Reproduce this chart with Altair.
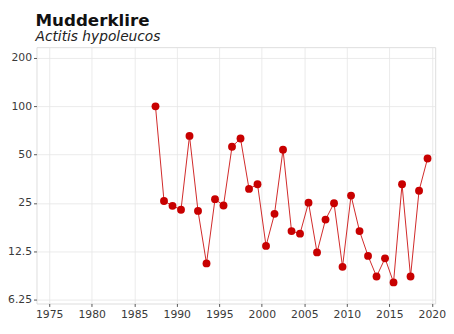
import altair as alt
import pandas as pd

years = list(range(1987, 2020))
counts = [100, 25.7, 24.0, 22.7, 65.4, 22.3, 10.5, 26.4, 24.1, 56.0,
          63.0, 30.6, 32.7, 13.5, 21.4, 53.7, 16.7, 16.1, 25.1, 12.3,
          19.7, 24.9, 10.0, 27.8, 16.7, 11.7, 8.7, 11.3, 8.0, 32.7,
          8.7, 29.8, 47.3]
x_ticks = [1975, 1980, 1985, 1990, 1995, 2000, 2005, 2010, 2015, 2020]
y_ticks = [6.25, 12.5, 25, 50, 100, 200]

df = pd.DataFrame({"year": years, "count": counts})

RED = "#c80000"
FONT = "DejaVu Sans"
LABEL_SIZE = 11

axis_style = dict(
    title=None,
    domain=False,
    grid=True,
    gridColor="#e6e6e6",
    gridWidth=0.8,
    tickColor="#555555",
    tickSize=3,
    labelFont=FONT,
    labelFontSize=LABEL_SIZE,
    labelColor="#3a3a3a",
    labelPadding=2,
)

base = alt.Chart(df).transform_calculate(xpos="datum.year + 0.5").encode(
    x=alt.X("xpos:Q",
            scale=alt.Scale(domain=[1973.5, 2020.4], nice=False, zero=False),
            axis=alt.Axis(values=x_ticks, format="d", **axis_style)),
    y=alt.Y("count:Q",
            scale=alt.Scale(type="log", domain=[5.91, 233.6], nice=False),
            axis=alt.Axis(values=y_ticks, format="~g", **axis_style)),
)

line = base.mark_line(color=RED, strokeWidth=1, opacity=0.85)
pts = base.mark_circle(color=RED, size=64, opacity=1)

chart = (line + pts).properties(
    width=406,
    height=261,
    autosize=alt.AutoSizeParams(type="none"),
    padding={"left": 29, "top": 37, "right": 11, "bottom": 20},
    title=alt.TitleParams(
        text="Mudderklire",
        subtitle="Actitis hypoleucos",
        anchor="start",
        frame="group",
        font=FONT,
        fontSize=17,
        fontWeight="bold",
        color="#111111",
        subtitleFont=FONT,
        subtitleFontSize=14,
        subtitleFontStyle="italic",
        subtitleColor="#222222",
        subtitlePadding=1,
        offset=2,
        dx=-1,
    ),
).configure_view(
    stroke="#a8a8a8", strokeWidth=1
).configure_axis(
    labelFont=FONT, labelFontSize=LABEL_SIZE
).configure(background="white", font=FONT)

chart.save("out.html", embed_options={"renderer": "svg", "actions": False})
